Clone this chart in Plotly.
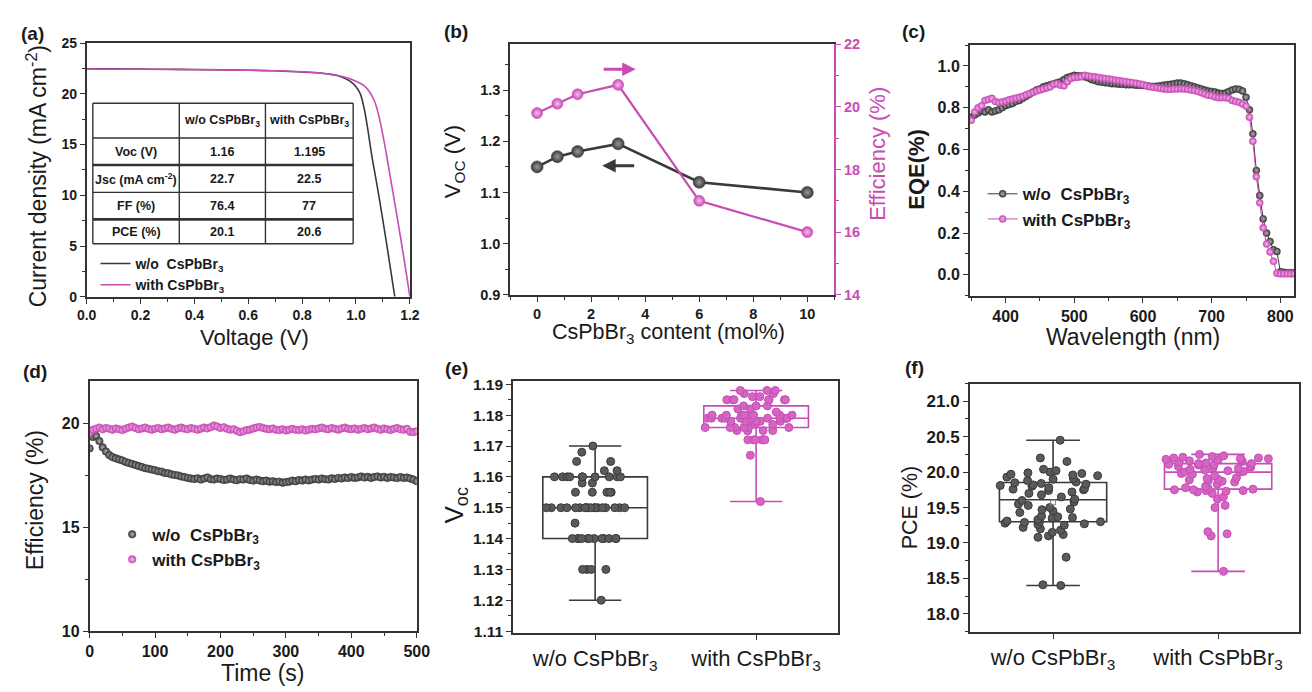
import numpy as np
import plotly.graph_objects as go

W, H = 1312, 692
FONT = "Arial, 'Liberation Sans', sans-serif"
DARK = "#3a3a3a"
DARK_HI = "#b4b4b4"
MAG = "#c94bb5"
MAG_HI = "#f3c0ea"
AXIS = "#333333"
TXT = "#1a1a1a"

# ---------------- (a) J-V curves ----------------
jv_v_wo = [0.0, 0.1, 0.2, 0.3, 0.4, 0.5, 0.6, 0.7, 0.8, 0.85, 0.9, 0.93, 0.96, 0.98,
           1.0, 1.016, 1.03, 1.045, 1.058, 1.08, 1.10, 1.122, 1.144]
jv_j_wo = [22.48, 22.46, 22.44, 22.42, 22.40, 22.37, 22.33, 22.27, 22.15, 22.08, 21.95, 21.8,
           21.5, 21.2, 20.7, 20.0, 18.6, 16.3, 14.0, 10.7, 7.5, 3.8, 0.0]
jv_v_with = [0.0, 0.2, 0.4, 0.6, 0.7, 0.8, 0.85, 0.9, 0.95, 1.0, 1.03, 1.05, 1.07, 1.085,
             1.10, 1.11, 1.13, 1.15, 1.17, 1.185, 1.20]
jv_j_with = [22.45, 22.42, 22.38, 22.32, 22.27, 22.18, 22.1, 21.95, 21.7, 21.25, 20.8, 20.2,
             19.2, 17.8, 15.9, 14.5, 11.4, 8.3, 5.1, 2.6, 0.0]

table_header = ["", "w/o CsPbBr<sub>3</sub>", "with CsPbBr<sub>3</sub>"]
table_params = ["Voc (V)", "Jsc (mA cm<sup>-2</sup>)", "FF (%)", "PCE (%)"]
table_wo = ["1.16", "22.7", "76.4", "20.1"]
table_with = ["1.195", "22.5", "77", "20.6"]

# ---------------- (b) Voc / efficiency vs CsPbBr3 content ----------------
content = [0, 0.75, 1.5, 3, 6, 10]
voc_content = [1.15, 1.17, 1.18, 1.195, 1.12, 1.10]
eff_content = [19.8, 20.1, 20.4, 20.7, 17.0, 16.0]

# ---------------- (c) EQE spectra ----------------
wavelength = np.arange(350, 821, 5)
eqe_wo = [0.755, 0.765, 0.775, 0.785, 0.780, 0.790, 0.780, 0.785, 0.790, 0.800,
          0.810, 0.815, 0.820, 0.830, 0.835, 0.845, 0.855, 0.865, 0.875, 0.885,
          0.890, 0.900, 0.905, 0.910, 0.915, 0.920, 0.925, 0.935, 0.945, 0.950,
          0.955, 0.953, 0.952, 0.948, 0.943, 0.935, 0.930, 0.925, 0.922, 0.920,
          0.918, 0.915, 0.915, 0.913, 0.912, 0.910, 0.910, 0.910, 0.908, 0.908,
          0.907, 0.905, 0.903, 0.902, 0.903, 0.905, 0.908, 0.910, 0.912, 0.915,
          0.918, 0.918, 0.915, 0.910, 0.905, 0.900, 0.895, 0.890, 0.885, 0.880,
          0.878, 0.875, 0.870, 0.868, 0.870, 0.878, 0.885, 0.890, 0.888, 0.880,
          0.850, 0.790, 0.675, 0.500, 0.380, 0.268, 0.200, 0.160, 0.120, 0.112,
          0.015, 0.012, 0.010, 0.010, 0.010]
eqe_with = [0.740, 0.780, 0.800, 0.810, 0.835, 0.840, 0.845, 0.830, 0.825, 0.828,
            0.832, 0.838, 0.842, 0.846, 0.850, 0.855, 0.862, 0.868, 0.874, 0.880,
            0.885, 0.890, 0.895, 0.900, 0.912, 0.915, 0.908, 0.905, 0.925, 0.940,
            0.945, 0.946, 0.948, 0.955, 0.952, 0.950, 0.948, 0.945, 0.942, 0.940,
            0.938, 0.935, 0.932, 0.930, 0.927, 0.925, 0.922, 0.920, 0.917, 0.914,
            0.911, 0.905, 0.900, 0.898, 0.896, 0.893, 0.890, 0.888, 0.888, 0.890,
            0.890, 0.891, 0.890, 0.888, 0.885, 0.882, 0.878, 0.872, 0.866, 0.860,
            0.858, 0.852, 0.848, 0.848, 0.848, 0.845, 0.835, 0.830, 0.826, 0.818,
            0.808, 0.755, 0.640, 0.470, 0.345, 0.225, 0.148, 0.110, 0.065, 0.008,
            0.005, 0.005, 0.005, 0.005, 0.005]

# ---------------- (d) efficiency tracking ----------------
time_s = np.arange(0, 501, 5)
track_wo = [18.80, 19.35, 19.40, 19.15, 18.85, 18.65, 18.48, 18.38, 18.32, 18.27,
            18.22, 18.15, 18.10, 18.05, 18.00, 17.95, 17.90, 17.85, 17.82, 17.78,
            17.75, 17.70, 17.68, 17.62, 17.60, 17.55, 17.52, 17.50, 17.45, 17.42,
            17.38, 17.35, 17.33, 17.36, 17.30, 17.35, 17.40, 17.32, 17.30, 17.35,
            17.33, 17.28, 17.30, 17.35, 17.30, 17.27, 17.32, 17.30, 17.35, 17.28,
            17.25, 17.30, 17.26, 17.22, 17.25, 17.20, 17.22, 17.18, 17.20, 17.15,
            17.18, 17.20, 17.25, 17.22, 17.28, 17.25, 17.30, 17.26, 17.30, 17.33,
            17.30, 17.35, 17.32, 17.30, 17.36, 17.33, 17.38, 17.35, 17.40, 17.37,
            17.42, 17.38, 17.40, 17.45, 17.40, 17.43, 17.38, 17.42, 17.45, 17.40,
            17.43, 17.38, 17.42, 17.40, 17.37, 17.42, 17.38, 17.40, 17.35, 17.30,
            17.22]
track_with = [19.55, 19.70, 19.75, 19.80, 19.72, 19.78, 19.75, 19.70, 19.76, 19.72,
              19.68, 19.75, 19.80, 19.85, 19.78, 19.72, 19.76, 19.80, 19.74, 19.70,
              19.75, 19.78, 19.72, 19.76, 19.80, 19.74, 19.70, 19.76, 19.80, 19.75,
              19.72, 19.78, 19.74, 19.70, 19.75, 19.80, 19.76, 19.82, 19.90, 19.85,
              19.78, 19.82, 19.75, 19.70, 19.72, 19.65, 19.58, 19.62, 19.68, 19.70,
              19.76, 19.80, 19.83, 19.78, 19.74, 19.72, 19.76, 19.70, 19.68, 19.72,
              19.66, 19.70, 19.74, 19.70, 19.68, 19.72, 19.66, 19.70, 19.74, 19.72,
              19.76, 19.80, 19.75, 19.72, 19.78, 19.74, 19.70, 19.76, 19.80, 19.75,
              19.72, 19.76, 19.70, 19.74, 19.78, 19.72, 19.76, 19.80, 19.74, 19.70,
              19.76, 19.72, 19.68, 19.74, 19.78, 19.72, 19.70, 19.74, 19.60, 19.58,
              19.62]

# ---------------- (e) Voc statistics ----------------
groups = ["w/o CsPbBr<sub>3</sub>", "with CsPbBr<sub>3</sub>"]
voc_wo = [1.120,
          1.130, 1.130, 1.130, 1.130,
          1.140, 1.140, 1.140, 1.140, 1.140, 1.140, 1.140, 1.140, 1.140, 1.140, 1.140, 1.140,
          1.145,
          1.150, 1.150, 1.150, 1.150, 1.150, 1.150, 1.150, 1.150, 1.150,
          1.150, 1.150, 1.150, 1.150, 1.150, 1.150, 1.150, 1.150, 1.150,
          1.155, 1.155, 1.155, 1.155, 1.155,
          1.158, 1.158,
          1.160, 1.160, 1.160, 1.160, 1.160, 1.160, 1.160, 1.160, 1.160, 1.160,
          1.162, 1.162, 1.165, 1.165, 1.168, 1.170]
voc_with = [1.152, 1.167,
            1.172, 1.172, 1.172, 1.172, 1.172, 1.172,
            1.175, 1.175, 1.175, 1.175, 1.175,
            1.176, 1.176, 1.176, 1.176, 1.176, 1.176,
            1.177, 1.177,
            1.178, 1.178, 1.178, 1.178, 1.178, 1.178,
            1.179, 1.179, 1.179, 1.179, 1.179, 1.179, 1.179, 1.179, 1.179, 1.179,
            1.180, 1.180, 1.180, 1.180, 1.180, 1.180, 1.180, 1.180,
            1.181, 1.182, 1.182, 1.183, 1.183, 1.183,
            1.185, 1.185, 1.185, 1.185, 1.185, 1.185, 1.185,
            1.186, 1.186, 1.187, 1.187, 1.188, 1.188, 1.188]

# ---------------- (f) PCE statistics ----------------
pce_wo = [18.40, 18.41, 18.80, 19.08, 19.10, 19.12, 19.15, 19.18, 19.20, 19.22,
          19.25, 19.26, 19.27, 19.28, 19.29, 19.30, 19.30, 19.31, 19.33, 19.35,
          19.36, 19.37, 19.38, 19.43, 19.45, 19.47, 19.48, 19.50, 19.53, 19.55,
          19.58, 19.60, 19.62, 19.65, 19.68, 19.70, 19.72, 19.74, 19.75, 19.76,
          19.77, 19.78, 19.80, 19.81, 19.82, 19.83, 19.84, 19.85, 19.86, 19.88,
          19.90, 19.91, 19.93, 19.95, 19.96, 19.97, 19.98, 19.99, 20.00, 20.02,
          20.04, 20.15, 20.20, 20.45]
pce_with = [18.60, 19.10, 19.13, 19.16, 19.50, 19.53, 19.62, 19.65, 19.70, 19.72,
            19.73, 19.74, 19.74, 19.75, 19.75, 19.76, 19.77, 19.78, 19.80, 19.83,
            19.86, 19.87, 19.88, 19.89, 19.90, 19.91, 19.92, 19.95, 19.97, 19.98,
            20.00, 20.00, 20.01, 20.02, 20.03, 20.04, 20.05, 20.06, 20.07, 20.08,
            20.09, 20.10, 20.10, 20.11, 20.12, 20.12, 20.13, 20.14, 20.15, 20.16,
            20.17, 20.18, 20.18, 20.19, 20.19, 20.20, 20.20, 20.21, 20.22, 20.23,
            20.25]


def fx(px):
    return px / W


def fy(py):
    return 1 - py / H


def sphere(color, hi, size):
    return dict(color=color, size=size, gradient=dict(type="radial", color=hi),
                line=dict(width=0.6, color=color))


fig = go.Figure()

# (a)
fig.add_trace(go.Scatter(x=jv_v_wo, y=jv_j_wo, mode="lines", line=dict(color=DARK, width=1.6),
                         name="w/o\u00a0\u00a0CsPbBr<sub>3</sub>", legend="legend",
                         xaxis="x", yaxis="y", line_shape="spline"))
fig.add_trace(go.Scatter(x=jv_v_with, y=jv_j_with, mode="lines", line=dict(color=MAG, width=1.6),
                         name="with CsPbBr<sub>3</sub>", legend="legend",
                         xaxis="x", yaxis="y", line_shape="spline"))

# (b)
fig.add_trace(go.Scatter(x=content, y=voc_content, mode="lines+markers",
                         line=dict(color=DARK, width=2.6), marker=sphere(DARK, "#9a9a9a", 12),
                         xaxis="x2", yaxis="y2", showlegend=False))
fig.add_trace(go.Scatter(x=content, y=eff_content, mode="lines+markers",
                         line=dict(color=MAG, width=2.2), marker=sphere(MAG, MAG_HI, 11),
                         xaxis="x2", yaxis="y7", showlegend=False))

# (c)
fig.add_trace(go.Scatter(x=wavelength, y=eqe_wo, mode="lines+markers",
                         line=dict(color=DARK, width=1), marker=sphere(DARK, DARK_HI, 7),
                         name="w/o\u00a0\u00a0CsPbBr<sub>3</sub>", legend="legend2",
                         xaxis="x3", yaxis="y3"))
fig.add_trace(go.Scatter(x=wavelength, y=eqe_with, mode="lines+markers",
                         line=dict(color=MAG, width=1), marker=sphere(MAG, MAG_HI, 7),
                         name="with CsPbBr<sub>3</sub>", legend="legend2",
                         xaxis="x3", yaxis="y3"))

# (d)
fig.add_trace(go.Scatter(x=time_s, y=track_wo, mode="markers", marker=sphere(DARK, DARK_HI, 7.5),
                         name="w/o\u00a0\u00a0CsPbBr<sub>3</sub>", legend="legend3",
                         xaxis="x4", yaxis="y4"))
fig.add_trace(go.Scatter(x=time_s, y=track_with, mode="markers", marker=sphere(MAG, MAG_HI, 7.5),
                         name="with CsPbBr<sub>3</sub>", legend="legend3",
                         xaxis="x4", yaxis="y4"))


# (e) and (f): box from sample statistics (whiskers at min / max) + all samples
def add_box(values, pos, color, pt_color, xa, ya):
    v = np.asarray(values)
    fig.add_trace(go.Box(x=[pos], q1=[np.percentile(v, 25)], median=[np.percentile(v, 50)],
                         q3=[np.percentile(v, 75)], lowerfence=[v.min()], upperfence=[v.max()],
                         width=0.65, whiskerwidth=0.5, boxpoints=False,
                         line=dict(color=color, width=1.6), fillcolor="rgba(0,0,0,0)",
                         xaxis=xa, yaxis=ya, showlegend=False))
    fig.add_trace(go.Box(y=v, x0=pos, width=0.65, boxpoints="all", jitter=1.0, pointpos=0,
                         line=dict(color="rgba(0,0,0,0)", width=0), fillcolor="rgba(0,0,0,0)",
                         marker=dict(color=pt_color, size=8, line=dict(width=1, color=color)),
                         xaxis=xa, yaxis=ya, showlegend=False))


add_box(voc_wo, 0, DARK, "#5a5a5a", "x5", "y5")
add_box(voc_with, 1, MAG, "#d366c2", "x5", "y5")
add_box(pce_wo, 0, DARK, "#5a5a5a", "x6", "y6")
add_box(pce_with, 1, MAG, "#d366c2", "x6", "y6")
fig.add_trace(go.Scatter(x=[0], y=[float(np.mean(pce_wo))], mode="markers",
                         marker=dict(symbol="square-open", size=5, color="#888888", line=dict(width=1)),
                         xaxis="x6", yaxis="y6", showlegend=False))


def axis(dom, rng, size, dtick=None, minor=None, fmt=None, anchor=None, mirror=True, **kw):
    d = dict(domain=dom, range=rng, showgrid=False, zeroline=False, showline=True,
             linecolor=AXIS, linewidth=1.6, mirror=mirror, ticks="outside", ticklen=5,
             tickwidth=1.4, tickcolor=AXIS, anchor=anchor,
             tickfont=dict(family=FONT, size=size, color=TXT, weight="bold"))
    if dtick is not None:
        d["dtick"] = dtick
        d["tick0"] = 0
    if minor is not None:
        d["minor"] = dict(dtick=minor, ticks="outside", ticklen=3, tickwidth=1.2, tickcolor=AXIS)
    if fmt:
        d["tickformat"] = fmt
    d.update(kw)
    return d


cat_font = dict(family=FONT, size=22, color=TXT)

layout = dict(
    width=W, height=H, margin=dict(l=0, r=0, t=0, b=0),
    paper_bgcolor="white", plot_bgcolor="white",
    font=dict(family=FONT, color=TXT),
    boxmode="overlay",
    xaxis=axis([fx(78), fx(407)], [0, 1.2], 14, 0.2, 0.1, ".1f", "y"),
    yaxis=axis([fy(296), fy(36)], [0, 25], 14, 5, 2.5, None, "x"),
    xaxis2=axis([fx(509), fx(839)], [-1, 11], 14.5, 2, 1, None, "y2"),
    yaxis2=axis([fy(294), fy(37)], [0.9, 1.39], 14.5, 0.1, 0.05, ".1f", "x2", mirror=False),
    yaxis7=dict(overlaying="y2", side="right", anchor="x2", range=[14, 22], dtick=2, tick0=0,
                showgrid=False, zeroline=False, showline=True, linecolor=MAG, linewidth=1.6,
                ticks="outside", ticklen=5, tickwidth=1.4, tickcolor=MAG,
                minor=dict(dtick=1, ticks="outside", ticklen=3, tickwidth=1.2, tickcolor=MAG),
                tickfont=dict(family=FONT, size=14.5, color=MAG, weight="bold")),
    xaxis3=axis([fx(977), fx(1307)], [348, 820], 16, 100, 50, None, "y3"),
    yaxis3=axis([fy(295), fy(38)], [-0.1, 1.1], 16, 0.2, 0.1, ".1f", "x3"),
    xaxis4=axis([fx(81), fx(414)], [0, 500], 16, 100, 50, None, "y4"),
    yaxis4=axis([fy(639), fy(382)], [10, 22.06], 16, 5, 2.5, None, "x4"),
    xaxis5=axis([fx(512), fx(843)], [-0.51, 1.51], 22, anchor="y5",
                tickvals=[0, 1], ticktext=groups, tickfont=cat_font),
    yaxis5=axis([fy(641), fy(382)], [1.1093, 1.1912], 15.5, 0.01, 0.005, ".2f", "x5"),
    xaxis6=axis([fx(977), fx(1312)], [-0.504, 1.49], 22, anchor="y6",
                tickvals=[0, 1], ticktext=groups, tickfont=cat_font),
    yaxis6=axis([fy(640), fy(385)], [17.74, 21.25], 17, 0.5, 0.25, ".1f", "x6"),
    legend=dict(x=fx(87), y=fy(246), xanchor="left", yanchor="top", bgcolor="rgba(0,0,0,0)",
                font=dict(family=FONT, size=14, color=TXT, weight="bold"), tracegroupgap=0),
    legend2=dict(x=fx(990), y=fy(172.5), xanchor="left", yanchor="top", bgcolor="rgba(0,0,0,0)",
                 font=dict(family=FONT, size=17, color=TXT, weight="bold"), tracegroupgap=0),
    legend3=dict(x=fx(104), y=fy(521.5), xanchor="left", yanchor="top", bgcolor="rgba(0,0,0,0)",
                 font=dict(family=FONT, size=17, color=TXT, weight="bold"), tracegroupgap=0),
)
fig.update_layout(**layout)

ann = []


def text(x, y, s, size, bold=False, angle=0, color=TXT, xanchor="center"):
    ann.append(dict(x=fx(x), y=fy(y), xref="paper", yref="paper", text=s, showarrow=False,
                    textangle=angle, xanchor=xanchor, yanchor="middle",
                    font=dict(family=FONT, size=size, color=color,
                              weight="bold" if bold else "normal")))


# panel letters
for lab, x, y in [("(a)", 23, 26), ("(b)", 454, 24), ("(c)", 920, 24),
                  ("(d)", 25, 373), ("(e)", 454, 370), ("(f)", 921, 369)]:
    text(x, y, lab, 19, bold=True)

# axis titles
text(27, 173, "Current density (mA cm<sup>-2</sup>)", 23, angle=-90)
text(249, 338, "Voltage (V)", 22)
text(452, 158, "V<sub>OC</sub> (V)", 22, angle=-90)
text(883, 150, "Efficiency (%)", 22, angle=-90, color=MAG)
text(670, 334, "CsPbBr<sub>3</sub> content (mol%)", 21.5)
text(923, 165, "EQE(%)", 22, bold=True, angle=-90)
text(1143, 337, "Wavelength (nm)", 23)
text(25, 505, "Efficiency (%)", 23, angle=-90)
text(257, 682, "Time (s)", 23)
text(453, 510, "V<sub>oc</sub>", 26, angle=-90)
text(916, 512, "PCE (%)", 21.5, angle=-90)

# direction arrows in (b)
ann.append(dict(x=3.65, y=21.2, ax=2.41, ay=21.2, xref="x2", yref="y7", axref="x2", ayref="y7",
                text="", showarrow=True, arrowhead=2, arrowsize=0.9, arrowwidth=3, arrowcolor=MAG))
ann.append(dict(x=2.41, y=1.152, ax=3.65, ay=1.152, xref="x2", yref="y2", axref="x2", ayref="y2",
                text="", showarrow=True, arrowhead=2, arrowsize=0.9, arrowwidth=3, arrowcolor=DARK))

# photovoltaic parameter table in (a)
col_edges = [84.3, 172.3, 260, 349.3]
row_edges = [97.7, 133.3, 161, 189, 216.7, 241.7]
thick_rows = {2, 4}
shapes = []
for i, ry in enumerate(row_edges):
    shapes.append(dict(type="line", xref="paper", yref="paper",
                       x0=fx(col_edges[0]), x1=fx(col_edges[-1]), y0=fy(ry), y1=fy(ry),
                       line=dict(color=AXIS, width=2.6 if i in thick_rows else 1.4)))
for cx in col_edges:
    shapes.append(dict(type="line", xref="paper", yref="paper",
                       x0=fx(cx), x1=fx(cx), y0=fy(row_edges[0]), y1=fy(row_edges[-1]),
                       line=dict(color=AXIS, width=1.4)))

rows = [table_header] + [[p, a, b] for p, a, b in zip(table_params, table_wo, table_with)]
for r, row in enumerate(rows):
    cy = (row_edges[r] + row_edges[r + 1]) / 2
    for c, cell in enumerate(row):
        if cell:
            cx = (col_edges[c] + col_edges[c + 1]) / 2
            text(cx, cy, cell, 12.5, bold=True)

fig.update_layout(annotations=ann, shapes=shapes)
fig.write_html("out.html")
